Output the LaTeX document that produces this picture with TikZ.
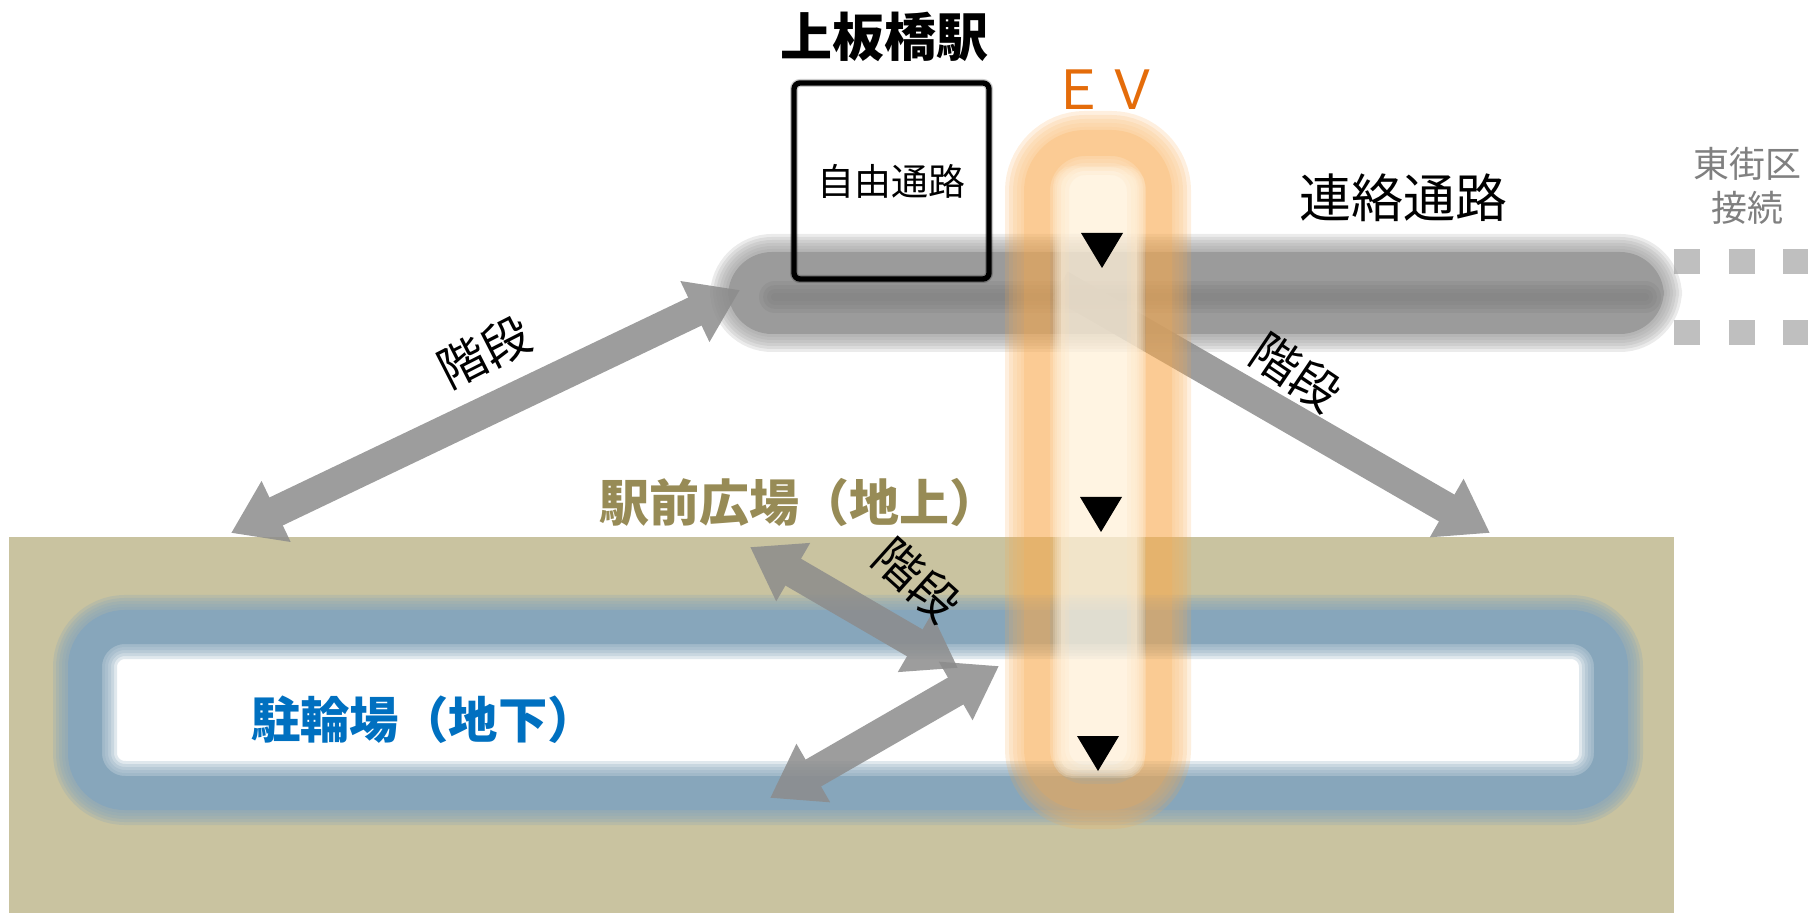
\documentclass[tikz,border=0pt]{standalone}
\usepackage{fontspec}
\newfontfamily\jp{Noto Sans CJK JP}
\usetikzlibrary{arrows.meta}
\definecolor{groundc}{HTML}{C9C3A0}
\definecolor{bandblue}{HTML}{87A6BB}
\definecolor{corrc}{HTML}{9B9B9B}
\definecolor{corrdark}{HTML}{808080}
\definecolor{stairc}{HTML}{8C8C8C}
\definecolor{sqc}{HTML}{BFBFBF}
\definecolor{olive}{HTML}{978B56}
\definecolor{bluetext}{HTML}{0070C0}
\definecolor{evorange}{HTML}{E46C0A}
\definecolor{tubeorange}{HTML}{F8A94C}
\definecolor{tubelight}{HTML}{FFF0D8}
\definecolor{graytext}{HTML}{808080}
\begin{document}
\begin{tikzpicture}[x=0.5pt,y=-0.5pt,
  >={Triangle[width=32pt,length=25pt]},
  stair/.style={draw=stairc, line width=15.5pt},
  lbl/.style={font=\jp\fontsize{24pt}{26pt}\selectfont, text=black, inner sep=0pt},
  sqline/.style={draw=sqc, line width=12.5pt, dash pattern=on 13pt off 14.25pt},
  evtri/.pic={\fill[black] (-21,-17) -- (21,-17) -- (0,18) -- cycle;}
 ]
\path[use as bounding box] (0,0) rectangle (1808,913);

% ground level (station square)
\fill[groundc] (9,537) rectangle (1674,913);

% underground bicycle parking
\fill[white] (85,627) rectangle (1611,793);
\foreach \w in {20,23,26,29,32}
  \draw[bandblue, line width=\w pt, opacity=0.25, rounded corners=20pt] (85,627) rectangle (1611,793);
\draw[bandblue, line width=17pt, rounded corners=20pt] (85,627) rectangle (1611,793);

% east district connection squares
\coordinate (sqa1) at (1674,262);
\coordinate (sqa2) at (1808,262);
\coordinate (sqb1) at (1674,333);
\coordinate (sqb2) at (1808,333);
\draw[sqline] (sqa1) -- (sqa2);
\draw[sqline] (sqb1) -- (sqb2);

% connecting corridor
\foreach \w in {3,6,9,12,15,18}
  \draw[corrc, line width=\w pt, opacity=0.2, rounded corners=22pt] (728,252) rectangle (1664,334);
\fill[corrc, rounded corners=22pt] (728,252) rectangle (1664,334);
\foreach \w in {4,8,12,16}
  \draw[corrdark, line width=\w pt, opacity=0.25, line cap=round] (775,297) -- (1645,297);

% stairs
\coordinate (A1) at (740,290);
\coordinate (A2) at (231,533);
\coordinate (B1) at (1060,285);
\coordinate (B2) at (1490,533);
\coordinate (C1) at (958,668);
\coordinate (C2) at (750,547);
\coordinate (D1) at (999,666);
\coordinate (D2) at (770,798);
\begin{scope}[transparency group, opacity=0.85]
  \draw[stair, <->] (A1) -- (A2);
\end{scope}
\begin{scope}[transparency group, opacity=0.85]
  \draw[stair, ->] (B1) -- (B2);
\end{scope}
\begin{scope}[transparency group, opacity=0.85]
  \draw[stair, <->] (C1) -- (C2);
\end{scope}
\begin{scope}[transparency group, opacity=0.85]
  \draw[stair, <->] (D1) -- (D2);
\end{scope}

% free passage box
\node[draw=black, line width=2.7pt, rounded corners=3pt, outer sep=0pt, minimum width=97.5pt, minimum height=98pt,
      font=\jp\fontsize{18.5pt}{22pt}\selectfont] (box) at (891.5,181) {自由通路};
\draw[black, opacity=0.2, line width=4pt, rounded corners=3pt] (box.south west) rectangle (box.north east);

% elevator tube
\begin{scope}[transparency group, opacity=0.6]
  \foreach \w in {16,20,24,28,32}
    \draw[tubeorange, line width=\w pt, opacity=0.3, rounded corners=24pt] (1037,143) rectangle (1159,797);
  \draw[tubeorange, line width=13pt, rounded corners=24pt] (1037,143) rectangle (1159,797);
\end{scope}
\begin{scope}[transparency group, opacity=0.75]
  \foreach \w in {2,4,6,8}
    \draw[tubelight, line width=\w pt, opacity=0.3, rounded corners=6pt] (1061,174) rectangle (1137,770);
  \fill[tubelight, rounded corners=6pt] (1061,174) rectangle (1137,770);
\end{scope}
\path (1102,250) pic {evtri};
\path (1101,514) pic {evtri};
\path (1098,753) pic {evtri};

% texts
\node[font=\jp\bfseries\fontsize{26pt}{30pt}\selectfont] (title) at (884,37) {上板橋駅};
\node[font=\jp\fontsize{27pt}{30pt}\selectfont, text=evorange] (ev) at (1105,90) {ＥＶ};
\node[font=\jp\fontsize{26pt}{30pt}\selectfont] (renraku) at (1403,198) {連絡通路};
\node[font=\jp\fontsize{18pt}{22pt}\selectfont, text=graytext, align=center] (higashi) at (1747,186) {東街区\\接続};
\node[font=\jp\bfseries\fontsize{25pt}{30pt}\selectfont, text=olive] (ekimae) at (799,503) {駅前広場（地上）};
\node[font=\jp\bfseries\fontsize{24.7pt}{30pt}\selectfont, text=bluetext] (churin) at (424,720) {駐輪場（地下）};
\node[lbl, rotate=27] (kaidan1) at (484,352) {階段};
\node[lbl, rotate=-34] (kaidan2) at (1296,372) {階段};
\node[lbl, rotate=-42] (kaidan3) at (917,580) {階段};
\end{tikzpicture}
\end{document}
